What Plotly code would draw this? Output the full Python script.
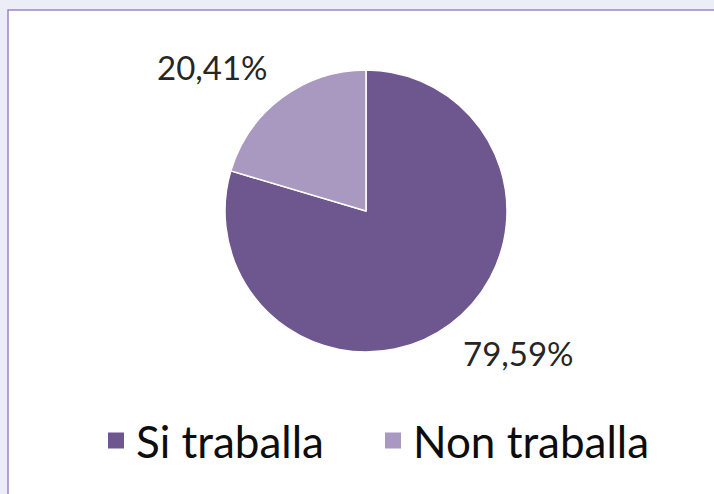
import plotly.graph_objects as go

labels = ["Si traballa", "Non traballa"]
values = [79.59, 20.41]
colors = ["#6E568F", "#A999C1"]
# label anchor positions (pixels in 714x494 image)
label_pos = [(518, 353), (212, 67)]

W, H = 714, 494
cx, cy, r = 366, 211, 141

fig = go.Figure()
fig.add_trace(go.Pie(
    labels=labels, values=values, sort=False, direction="clockwise", rotation=0,
    marker=dict(colors=colors, line=dict(color="white", width=1.5)),
    textinfo="none", showlegend=False,
    domain=dict(x=[(cx - r) / W, (cx + r) / W], y=[(H - cy - r) / H, (H - cy + r) / H]),
    hoverinfo="label+percent",
))

# legend entries
for lab, col in zip(labels, colors):
    fig.add_trace(go.Scatter(x=[None], y=[None], mode="markers", name=lab,
                             marker=dict(symbol="square", size=22, color=col)))

total = sum(values)
annotations = []
for v, (px, py) in zip(values, label_pos):
    txt = f"{v / total * 100:.2f}%".replace(".", ",")
    annotations.append(dict(x=px / W, y=(H - py) / H, xref="paper", yref="paper",
                            text=txt, showarrow=False, xanchor="center", yanchor="middle",
                            font=dict(family="Lato, Open Sans, sans-serif", size=33, color="#262626")))

fig.update_layout(
    width=W, height=H, separators=",.",
    margin=dict(l=0, r=0, t=0, b=0),
    paper_bgcolor="#EBEDF7", plot_bgcolor="rgba(0,0,0,0)",
    xaxis=dict(visible=False, range=[0, 1]), yaxis=dict(visible=False, range=[0, 1]),
    showlegend=True,
    legend=dict(orientation="h", x=373 / W, xanchor="center", y=(H - 441) / H, yanchor="middle",
                font=dict(family="Lato, Open Sans, sans-serif", size=44, color="#0d0d0d"),
                entrywidth=232, entrywidthmode="pixels",
                bgcolor="rgba(0,0,0,0)"),
    annotations=annotations,
    shapes=[dict(type="rect", xref="paper", yref="paper", x0=8 / W, x1=1.05, y0=-0.05, y1=(H - 10) / H,
                 fillcolor="white", line=dict(color="#9C85C8", width=1.5), layer="below")],
)

fig.write_html("out.html", config={"displayModeBar": False},
               post_script="document.body.style.margin='0';document.body.style.background='#EBEDF7';")
